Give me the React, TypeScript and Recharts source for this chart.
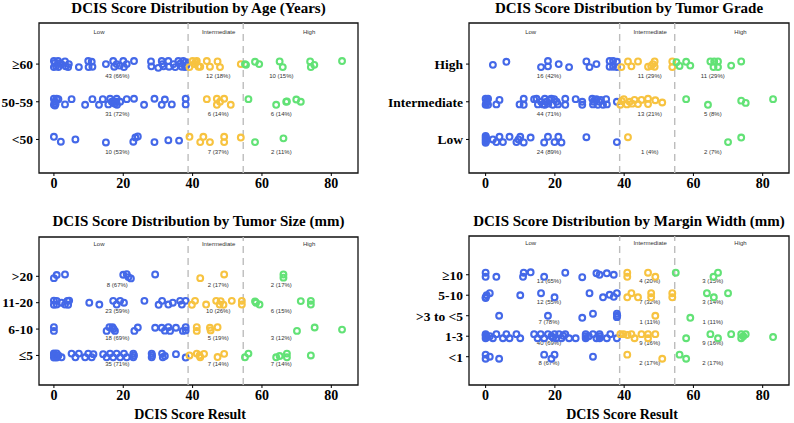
import React from 'react';
import { ScatterChart, Scatter, XAxis, YAxis, ReferenceLine, ReferenceArea } from 'recharts';

// shared bits
const scoreTicks = [0, 20, 40, 60, 80];
const cutoffs = [38.7, 54.6];
const bandNames = ['Low', 'Intermediate', 'High'];
const bandLabelX = [13, 47.5, 73.6];
const countLabelX = [18.3, 47.4, 65.6];

// Age (Years): rows <50=1, 50-59=2, >=60=3
const ageCats = ['<50', '50-59', '≥60'];
const ageLow = [
  [0, 3.08], [0, 2.92], [0.3, 3.03], [1.2, 3.08], [1.3, 2.92], [0.6, 2.95], [1.6, 3.02], [3.2, 3.07], [3.4, 2.94], [4.1, 2.92],
  [4.3, 3.0], [7.2, 2.92], [9.9, 3.08], [10.0, 2.92], [10.9, 3.06], [11.1, 2.93], [15.0, 3.0], [17.1, 3.08], [17.4, 2.93], [18.1, 3.0],
  [19.0, 2.96], [20.0, 3.08], [20.2, 2.92], [21.0, 3.0], [23.1, 3.08], [28.0, 3.07], [28.1, 2.94], [30.1, 2.9], [31.1, 3.08], [31.3, 3.0],
  [31.6, 2.94], [33.0, 3.08], [33.2, 2.93], [34.5, 3.0], [35.0, 2.92], [35.9, 3.08], [36.5, 3.02], [36.9, 2.93], [37.3, 3.08], [37.8, 2.92],
  [38.0, 3.05], [38.2, 2.97], [2.2, 3.0],
  [0, 2.08], [0, 1.92], [0.2, 2.0], [0.8, 2.08], [1.3, 2.07], [0.5, 1.95], [0.3, 1.9], [3.2, 1.93], [5.1, 2.07], [9.0, 1.92],
  [11.1, 2.07], [13.0, 1.92], [14.1, 2.07], [15.7, 1.93], [16.2, 2.08], [16.7, 2.0], [17.2, 2.0], [18.1, 2.08], [18.2, 1.92], [18.0, 2.0],
  [19.1, 2.0], [21.0, 2.07], [23.1, 2.08], [26.0, 1.92], [29.0, 2.08], [31.1, 1.92], [32.0, 2.06], [34.0, 1.93], [38.0, 2.08], [38.0, 1.93],
  [17.6, 1.95],
  [0, 1.07], [2.0, 0.94], [6.2, 1.0], [15.0, 0.92], [22.9, 0.94], [23.5, 1.05], [24.2, 1.08], [29.0, 0.93], [33.0, 0.98], [36.1, 0.97],
];
const ageInt = [
  [39.1, 2.92], [40.0, 3.08], [40.5, 3.0], [41.2, 3.08], [41.7, 2.93], [42.2, 2.93], [44.1, 3.08], [45.0, 2.93], [47.2, 3.07], [47.9, 2.92],
  [53.9, 3.0], [40.8, 3.05],
  [44.1, 2.07], [47.0, 2.08], [47.0, 1.92], [47.9, 2.0], [49.1, 2.08], [51.0, 1.92],
  [39.1, 1.07], [42.2, 0.93], [43.1, 1.07], [45.0, 0.93], [49.1, 1.07], [49.1, 0.93], [53.9, 1.05],
];
const ageHigh = [
  [55.1, 3.0], [58.0, 3.06], [59.2, 3.0], [65.1, 3.07], [66.0, 2.92], [73.9, 3.07], [74.1, 2.92], [75.1, 2.98], [83.1, 3.08], [55.4, 2.98],
  [56.1, 2.07], [64.1, 1.92], [67.0, 2.0], [69.9, 2.06], [71.2, 2.0], [67.2, 2.01],
  [58.0, 0.93], [66.2, 1.03],
];
const ageCounts = [
  ['10 (53%)', '7 (37%)', '2 (11%)'],
  ['31 (72%)', '6 (14%)', '6 (14%)'],
  ['43 (66%)', '12 (18%)', '10 (15%)'],
];

// Tumor Grade: rows Low=1, Intermediate=2, High=3
const gradeCats = ['Low', 'Intermediate', 'High'];
const gradeLow = [
  [2.1, 2.98], [6.0, 3.06], [16.0, 2.92], [18.0, 3.08], [18.0, 2.94], [21.1, 3.0], [24.1, 2.92], [29.1, 3.07], [30.0, 2.92], [32.0, 3.0],
  [35.8, 3.08], [35.8, 2.93], [36.8, 3.08], [36.8, 2.93], [37.9, 3.06], [37.9, 2.92],
  [0, 2.08], [0, 1.92], [0.3, 2.0], [0.7, 2.08], [0.7, 1.92], [3.1, 1.93], [4.0, 2.05], [9.8, 1.93], [11.0, 2.08], [11.0, 1.92],
  [14.0, 2.07], [14.7, 2.08], [15.1, 1.93], [16.0, 2.0], [17.1, 2.08], [17.1, 1.92], [17.6, 2.0], [18.1, 1.95], [19.0, 2.08], [19.4, 1.92],
  [19.8, 2.07], [20.9, 1.93], [23.0, 2.08], [23.0, 1.92], [26.0, 2.07], [27.9, 1.92], [27.9, 2.0], [30.8, 2.08], [31.0, 1.93], [31.2, 2.0],
  [32.0, 2.07], [32.4, 1.92], [32.9, 2.0], [33.9, 1.92], [34.8, 2.07], [35.0, 1.93], [37.9, 2.0], [16.5, 1.93], [18.5, 2.06], [31.5, 2.05],
  [33.3, 2.05], [20.5, 2.0], [0.2, 1.96], [0.5, 2.04],
  [0, 1.09], [0, 1.03], [0, 0.97], [0, 0.91], [0.2, 1.0], [0.1, 1.06], [0.1, 0.94], [2.1, 1.0], [3.1, 0.93], [4.0, 1.07],
  [5.0, 0.93], [6.9, 1.07], [8.9, 0.93], [10.0, 1.07], [11.0, 0.92], [13.0, 1.05], [16.9, 0.92], [18.0, 1.07], [19.9, 0.93], [21.0, 1.07],
  [21.9, 0.92], [29.1, 1.06], [37.9, 0.93], [9.5, 1.0],
];
const gradeInt = [
  [39.2, 2.92], [41.1, 3.07], [42.1, 2.94], [44.0, 3.07], [46.9, 2.93], [47.8, 2.95], [48.8, 3.07], [48.8, 2.93], [53.9, 3.07], [53.9, 2.92],
  [48.3, 3.0],
  [38.9, 1.92], [39.9, 2.07], [40.8, 1.93], [41.6, 2.0], [43.0, 2.05], [44.0, 1.94], [45.0, 2.05], [46.9, 2.08], [46.9, 1.94], [49.0, 2.04],
  [51.0, 1.98], [42.3, 1.95], [39.3, 2.02],
  [41.1, 1.06],
];
const gradeHigh = [
  [55.1, 3.05], [56.0, 2.95], [57.9, 3.06], [59.1, 2.96], [64.9, 3.07], [65.8, 2.92], [66.0, 3.07], [67.1, 2.92], [67.1, 3.07], [70.9, 2.96],
  [73.8, 3.07],
  [57.9, 2.07], [64.2, 1.92], [73.8, 2.03], [75.1, 1.97], [83.0, 2.07],
  [70.0, 0.93], [73.8, 1.05],
];
const gradeCounts = [
  ['24 (89%)', '1 (4%)', '2 (7%)'],
  ['44 (71%)', '13 (21%)', '5 (8%)'],
  ['16 (42%)', '11 (29%)', '11 (29%)'],
];

// Tumor Size (mm): rows <=5=1, 6-10=2, 11-20=3, >20=4
const sizeCats = ['≤5', '6-10', '11-20', '>20'];
const sizeLow = [
  [0, 3.93], [0.8, 4.05], [3.2, 4.07], [20.0, 4.06], [21.0, 4.08], [21.5, 3.97], [22.2, 3.92], [29.2, 4.07],
  [0, 3.08], [0, 2.92], [0.8, 3.07], [0.8, 2.93], [2.2, 3.0], [3.2, 2.93], [3.9, 3.07], [4.1, 2.92], [4.4, 3.08], [10.2, 3.0],
  [13.1, 2.93], [17.1, 3.07], [18.1, 2.93], [19.1, 3.07], [20.2, 3.0], [26.1, 3.07], [30.2, 2.92], [31.2, 3.07], [33.0, 2.93], [34.3, 3.0],
  [36.4, 3.07], [36.9, 2.93], [38.0, 3.07],
  [0, 2.07], [0, 1.93], [15.2, 1.93], [16.0, 2.07], [16.9, 2.07], [17.6, 1.93], [17.2, 2.0], [23.2, 1.93], [24.2, 2.06], [29.2, 2.05],
  [31.1, 2.05], [32.0, 1.94], [33.0, 2.07], [33.5, 1.93], [35.2, 2.05], [37.2, 1.93], [38.0, 2.07], [38.0, 1.95],
  [0, 1.08], [0, 0.92], [0.3, 1.0], [0.8, 1.08], [0.8, 0.92], [1.3, 1.0], [2.2, 0.93], [0, 1.03], [0.5, 0.97], [5.1, 1.07],
  [6.2, 0.93], [7.2, 1.07], [9.0, 0.93], [9.9, 1.07], [10.9, 0.93], [11.4, 1.05], [14.2, 1.05], [15.2, 0.93], [16.2, 1.07], [17.1, 0.93],
  [18.1, 1.07], [19.1, 0.93], [20.2, 1.07], [21.0, 0.93], [22.9, 1.07], [22.9, 0.93], [23.1, 1.0], [28.2, 1.07], [28.2, 0.93], [31.2, 1.07],
  [31.4, 0.93], [32.0, 0.98], [35.2, 1.05], [38.0, 0.92], [28.3, 1.0],
];
const sizeInt = [
  [42.2, 3.93], [49.1, 4.07],
  [39.8, 2.92], [40.7, 3.07], [43.9, 2.93], [46.8, 3.07], [47.8, 2.93], [48.1, 3.06], [48.9, 2.92], [51.3, 3.07], [54.2, 3.07], [54.2, 2.93],
  [41.2, 2.07], [41.2, 1.93], [45.0, 2.05], [45.2, 1.95], [47.2, 2.07],
  [39.1, 1.0], [41.2, 1.07], [42.2, 0.93], [43.3, 1.06], [47.2, 0.94], [49.1, 1.06], [42.0, 1.0],
];
const sizeHigh = [
  [66.2, 4.07], [66.2, 3.95],
  [58.3, 3.0], [59.3, 2.93], [71.2, 3.06], [74.1, 3.07], [74.1, 2.93], [58.0, 3.05],
  [70.1, 1.93], [75.2, 2.06], [83.1, 1.98],
  [55.1, 0.93], [56.1, 1.07], [64.1, 0.93], [65.1, 0.98], [67.2, 1.07], [67.2, 0.93], [74.1, 1.0],
];
const sizeCounts = [
  ['35 (71%)', '7 (14%)', '7 (14%)'],
  ['18 (69%)', '5 (19%)', '3 (12%)'],
  ['23 (59%)', '10 (26%)', '6 (15%)'],
  ['8 (67%)', '2 (17%)', '2 (17%)'],
];

// Margin Width (mm): rows <1=1, 1-3=2, >3 to <5=3, 5-10=4, >=10=5
const marginCats = ['<1', '1-3', '>3 to <5', '5-10', '≥10'];
const marginLow = [
  [0, 5.1], [0, 4.9], [3.1, 4.9], [10.8, 4.9], [11.0, 5.1], [13.0, 5.12], [16.9, 4.9], [23.0, 5.1], [27.9, 4.88], [32.0, 5.07],
  [32.9, 5.0], [35.0, 5.07], [37.0, 5.0],
  [0, 3.9], [0.3, 4.0], [1.2, 4.1], [0, 3.86], [10.0, 4.0], [16.0, 4.1], [19.9, 3.9], [30.0, 4.1], [33.9, 3.9], [35.8, 4.02],
  [37.0, 3.92], [37.9, 4.1],
  [3.9, 3.0], [18.0, 3.0], [27.9, 2.9], [31.0, 3.1], [37.9, 3.1], [37.9, 2.93], [38.0, 3.0],
  [0, 2.1], [0, 1.9], [0.2, 2.0], [0, 2.04], [1.2, 2.0], [2.1, 1.9], [3.1, 2.1], [5.0, 1.9], [6.0, 2.1], [6.9, 1.9],
  [8.9, 2.1], [10.0, 1.9], [14.0, 2.1], [15.0, 1.9], [15.9, 2.1], [16.9, 1.9], [18.0, 2.1], [19.0, 2.0], [19.5, 1.93], [19.9, 2.1],
  [20.4, 1.9], [21.2, 2.1], [21.9, 1.9], [22.4, 2.02], [23.0, 2.1], [24.1, 1.9], [26.0, 1.9], [28.9, 2.1], [28.9, 1.9], [28.9, 2.0],
  [29.8, 2.0], [31.0, 2.1], [32.0, 1.9], [32.9, 2.1], [32.9, 1.9], [33.0, 2.0], [35.0, 1.9], [36.0, 2.1], [37.9, 1.9], [0.3, 1.95],
  [0, 1.1], [0, 0.9], [1.2, 1.0], [3.9, 0.9], [16.9, 1.1], [19.0, 0.9], [19.9, 1.1], [31.0, 1.0],
];
const marginInt = [
  [40.9, 5.1], [40.9, 4.9], [46.9, 5.1], [49.0, 4.9],
  [40.9, 3.9], [42.1, 4.1], [44.0, 3.9], [47.8, 4.1], [47.8, 3.9], [53.9, 4.1], [53.9, 3.9],
  [49.0, 3.0],
  [38.9, 2.1], [39.8, 2.1], [41.0, 2.06], [42.1, 2.1], [43.0, 1.9], [45.0, 2.1], [46.9, 1.9], [46.9, 2.1], [49.0, 2.1],
  [40.9, 1.1], [51.0, 0.9],
];
const marginHigh = [
  [54.9, 5.1], [65.8, 4.9], [67.1, 5.1],
  [63.9, 4.1], [65.9, 3.9], [70.0, 4.1],
  [59.1, 2.9],
  [57.9, 1.9], [64.9, 2.1], [67.1, 1.9], [70.9, 2.1], [73.8, 2.1], [73.8, 1.9], [74.4, 2.0], [75.1, 2.1], [83.0, 1.96],
  [56.0, 1.1], [57.9, 0.9],
];
const marginCounts = [
  ['8 (67%)', '2 (17%)', '2 (17%)'],
  ['40 (69%)', '9 (16%)', '9 (16%)'],
  ['7 (78%)', '1 (11%)', '1 (11%)'],
  ['12 (55%)', '7 (32%)', '3 (14%)'],
  ['13 (65%)', '4 (20%)', '3 (15%)'],
];

const BLUE = '#4468e8';
const YELLOW = '#f7c340';
const GREEN = '#62e276';
const serif = '"Liberation Serif", "Times New Roman", serif';
const sans = '"Liberation Sans", Arial, sans-serif';

const toPts = (a: number[][]) => a.map(([x, y]) => ({ x, y }));

const ring = (color: string) => (props: any) => (
  <circle cx={props.cx} cy={props.cy} r={2.9} fill="none" stroke={color} strokeWidth={2.1} />
);

const smallText = (props: any) => {
  const t = props.payload?.t ?? props.t;
  return (
    <text x={props.cx} y={props.cy} textAnchor="middle" dominantBaseline="central"
      fontFamily={sans} fontSize={6} fill="#333">{t}</text>
  );
};

interface PanelProps {
  left: number; top: number; width: number; height: number;
  mTop: number; mRight: number; yW: number; xH: number;
  xDomain: number[]; yDomain: number[]; headY: number;
  cats: string[]; low: number[][]; mid: number[][]; high: number[][]; counts: string[][];
}

function Panel(p: PanelProps) {
  const rows = p.cats.map((_, i) => i + 1);
  const countPts = p.counts.flatMap((row, i) => row.map((t, j) => ({ x: countLabelX[j], y: i + 1 - 0.32, t })));
  const headPts = bandNames.map((t, j) => ({ x: bandLabelX[j], y: p.headY, t }));
  const tickStyle = { fontFamily: serif, fontWeight: 700, fontSize: 14, fill: '#000' };
  const yTickStyle = { ...tickStyle, fontSize: 13.5 };
  return (
    <div style={{ position: 'absolute', left: p.left, top: p.top }}>
      <ScatterChart width={p.width} height={p.height} margin={{ top: p.mTop, right: p.mRight, left: 0, bottom: 0 }}>
        <XAxis type="number" dataKey="x" domain={p.xDomain} ticks={scoreTicks} allowDataOverflow interval={0}
          axisLine={false} tickLine={{ stroke: '#000' }} tickSize={3} tickMargin={2} height={p.xH} tick={tickStyle} />
        <YAxis type="number" dataKey="y" domain={p.yDomain} ticks={rows} allowDataOverflow width={p.yW} interval={0}
          tickFormatter={(v: number) => p.cats[v - 1]} axisLine={false} tickLine={{ stroke: '#000' }} tickSize={3}
          tickMargin={3} tick={yTickStyle} />
        <ReferenceArea x1={p.xDomain[0]} x2={p.xDomain[1]} y1={p.yDomain[0]} y2={p.yDomain[1]}
          fill="none" fillOpacity={0} stroke="#111" strokeWidth={1.3} />
        {cutoffs.map((c) => (
          <ReferenceLine key={c} x={c} stroke="#bdbdbd" strokeWidth={1.4} strokeDasharray="7 5" />
        ))}
        <Scatter data={headPts} shape={smallText} isAnimationActive={false} />
        <Scatter data={countPts} shape={smallText} isAnimationActive={false} />
        <Scatter data={toPts(p.low)} shape={ring(BLUE)} isAnimationActive={false} />
        <Scatter data={toPts(p.mid)} shape={ring(YELLOW)} isAnimationActive={false} />
        <Scatter data={toPts(p.high)} shape={ring(GREEN)} isAnimationActive={false} />
      </ScatterChart>
    </div>
  );
}

const Title = ({ text, left, width, top, size }: { text: string; left: number; width: number; top: number; size: number }) => (
  <div style={{ position: 'absolute', left, width, top, textAlign: 'center', fontFamily: serif, fontWeight: 700,
    fontSize: size, lineHeight: `${size}px`, whiteSpace: 'nowrap', color: '#000' }}>{text}</div>
);

export default function App() {
  return (
    <div style={{ position: 'absolute', left: 0, top: 0, width: 794, height: 423, background: '#fff', overflow: 'hidden' }}>
      <Title text="DCIS Score Distribution by Age (Years)" left={39} width={319} top={1} size={15} />
      <Title text="DCIS Score Distribution by Tumor Grade" left={469} width={320} top={1} size={15} />
      <Title text="DCIS Score Distribution by Tumor Size (mm)" left={39} width={319} top={214} size={15} />
      <Title text="DCIS Score Distribution by Margin Width (mm)" left={469} width={320} top={214} size={15} />
      <Panel left={0} top={0} width={380} height={200} mTop={23} mRight={22} yW={39} xH={27}
        xDomain={[-4.3, 87.7]} yDomain={[0.11, 4.09]} headY={3.86}
        cats={ageCats} low={ageLow} mid={ageInt} high={ageHigh} counts={ageCounts} />
      <Panel left={380} top={0} width={414} height={200} mTop={23} mRight={5} yW={89} xH={27}
        xDomain={[-4.8, 87.6]} yDomain={[0.11, 4.09]} headY={3.86}
        cats={gradeCats} low={gradeLow} mid={gradeInt} high={gradeHigh} counts={gradeCounts} />
      <Panel left={0} top={200} width={380} height={223} mTop={37} mRight={22} yW={39} xH={38}
        xDomain={[-4.3, 87.7]} yDomain={[-0.12, 5.49]} headY={5.24}
        cats={sizeCats} low={sizeLow} mid={sizeInt} high={sizeHigh} counts={sizeCounts} />
      <Panel left={380} top={200} width={414} height={223} mTop={36} mRight={5} yW={89} xH={38}
        xDomain={[-4.8, 87.6]} yDomain={[-0.38, 6.89]} headY={6.53}
        cats={marginCats} low={marginLow} mid={marginInt} high={marginHigh} counts={marginCounts} />
      <Title text="DCIS Score Result" left={90} width={200} top={408} size={14} />
      <Title text="DCIS Score Result" left={522} width={200} top={408} size={14} />
    </div>
  );
}
